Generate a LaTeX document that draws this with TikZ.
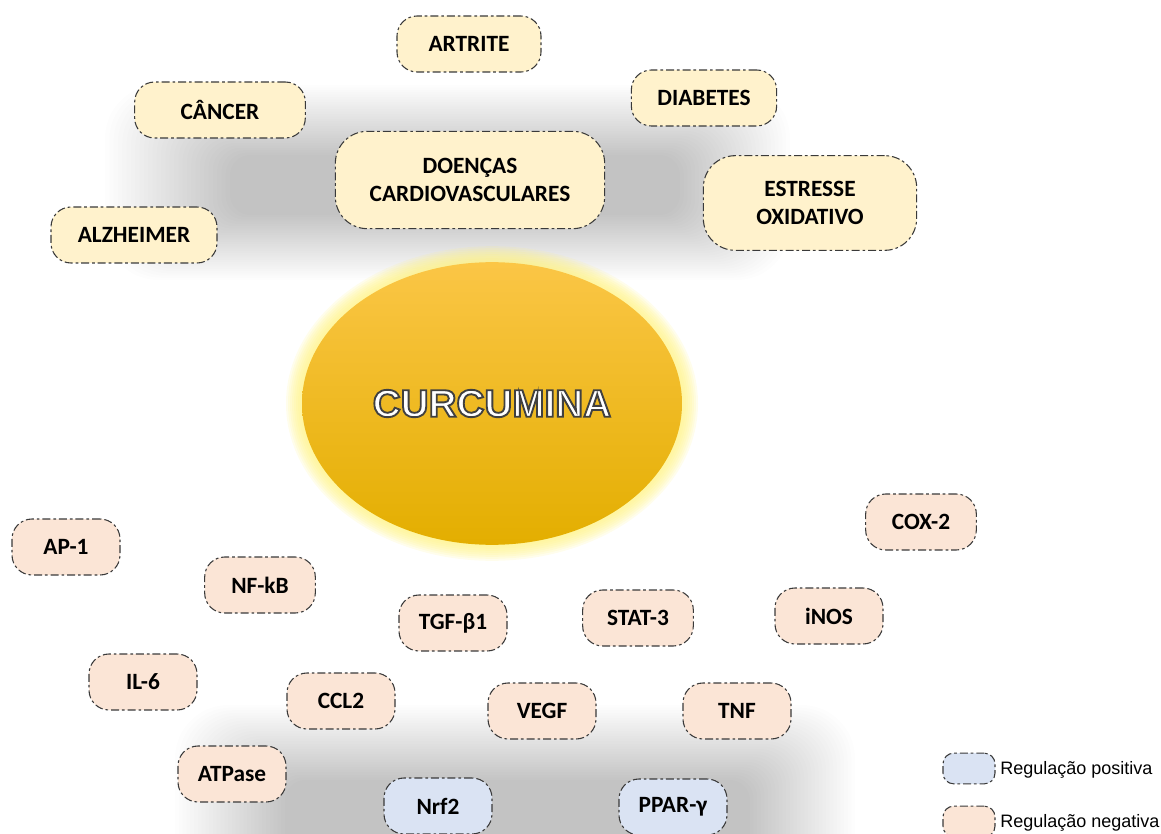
\documentclass[tikz,border=0pt]{standalone}
\usepackage{fontspec}
\setmainfont{Carlito}
\newfontfamily\arialfont{Liberation Sans}
\usetikzlibrary{calc,shapes.geometric}

\definecolor{diseasefill}{HTML}{FFF2CC}
\definecolor{negfill}{HTML}{FBE5D6}
\definecolor{posfill}{HTML}{DAE3F3}
\definecolor{boxline}{HTML}{3A3A3A}
\definecolor{curtop}{HTML}{FBC646}
\definecolor{curmid}{HTML}{FFC20A}
\definecolor{curbot}{HTML}{E3AE00}
\definecolor{glow}{HTML}{FFF27A}

\newcommand{\outlined}[1]{\special{pdf:code q 2 Tr 1.4 w 0.25 0.25 0.25 RG}#1\special{pdf:code 0 Tr Q}}

\begin{document}
\begin{tikzpicture}[x=0.75pt,y=-0.75pt,
  box/.style={draw=boxline,line width=0.8pt,
    dash pattern=on 6pt off 2.2pt on 2pt off 2.2pt,
    rounded corners=15pt,align=center,inner sep=0pt,
    font=\fontsize{17.5}{21}\selectfont\bfseries},
  disease/.style={box,fill=diseasefill,minimum height=42pt},
  bigdisease/.style={box,fill=diseasefill,rounded corners=24pt},
  negreg/.style={box,fill=negfill,minimum width=81pt,minimum height=42pt},
  posreg/.style={box,fill=posfill,minimum width=81pt,minimum height=42pt},
  legbox/.style={box,rounded corners=8pt,minimum width=39pt,minimum height=23pt},
  legtext/.style={anchor=west,inner sep=0pt,font=\arialfont\fontsize{13.5}{16}\selectfont},
  curfont/.style={font=\arialfont\bfseries\fontsize{29}{34}\selectfont}]

\useasboundingbox (0,0) rectangle (1161,834);

% soft shadows
\foreach \i in {0,...,29} {
  \pgfmathsetmacro\t{\i/29}
  \pgfmathsetmacro\rc{40-25*\t}
  \fill [black,opacity=0.007,rounded corners=\rc pt]
    ($(105,85)!\t!(230,155)$) rectangle ($(790,280)!\t!(680,215)$);
  \fill [black,opacity=0.0075,rounded corners=\rc pt]
    ($(175,705)!\t!(285,780)$) rectangle ($(855,950)!\t!(750,950)$);
}

% curcumina
\coordinate (c) at (492,403.5);
\foreach \r in {12,10.5,...,1.5}
  \fill [glow,opacity=0.14] (c) ellipse [x radius=142.5pt+\r pt,y radius=106pt+\r pt];
\node [ellipse,minimum width=285pt,minimum height=212pt,inner sep=0pt,
  top color=curtop,middle color=curmid,bottom color=curbot] (curcumina) at (c) {};
\node [curfont,text=white] at (curcumina.center) {\outlined{CURCUMINA}};

% diseases
\node [disease,minimum width=108pt] (artrite) at (469,44) {ARTRITE};
\node [disease,minimum width=128pt] (cancer) at (220,110) {CÂNCER};
\node [disease,minimum width=109pt] (diabetes) at (704,98) {DIABETES};
\node [bigdisease,minimum width=202pt,minimum height=73pt] (doencas) at (470,180)
  {DOENÇAS\\CARDIOVASCULARES};
\node [bigdisease,minimum width=160pt,minimum height=71pt] (estresse) at (810,203)
  {ESTRESSE\\OXIDATIVO};
\node [disease,minimum width=124.5pt] (alzheimer) at (134,235) {ALZHEIMER};

% negative regulation
\node [negreg] (ap1) at (66,547) {AP-1};
\node [negreg,minimum width=83pt] (nfkb) at (260,585) {NF-kB};
\node [negreg] (tgfb1) at (453,623) {TGF-β1};
\node [negreg,minimum width=83pt] (stat3) at (638,618) {STAT-3};
\node [negreg] (inos) at (829,616) {iNOS};
\node [negreg,minimum width=83pt] (cox2) at (921,522) {COX-2};
\node [negreg] (il6) at (143,682) {IL-6};
\node [negreg] (ccl2) at (341,701) {CCL2};
\node [negreg] (vegf) at (542,711) {VEGF};
\node [negreg] (tnf) at (737,711) {TNF};
\node [negreg] (atpase) at (232,774) {ATPase};

% positive regulation
\node [posreg] (nrf2) at (438,806) {Nrf2};
\node [posreg] (ppar) at (673,807) {PPAR-γ};

% legend
\node [legbox,fill=posfill] (legpos) at (969,768.5) {};
\node [legbox,fill=negfill] (legneg) at (969,821.5) {};
\node [legtext] at (1000,770) {Regulação positiva};
\node [legtext] at (1000,823) {Regulação negativa};

\end{tikzpicture}
\end{document}
